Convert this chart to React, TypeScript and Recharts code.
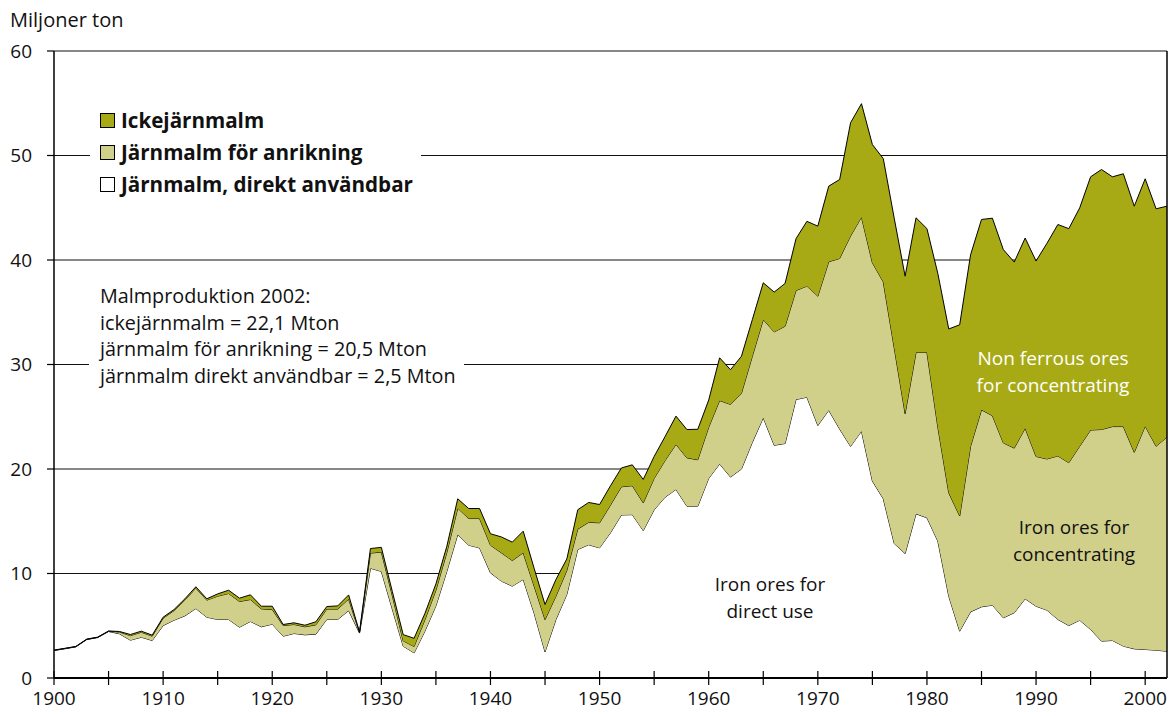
import React from "react";
import { AreaChart, Area, XAxis, YAxis, CartesianGrid, Legend, ReferenceLine } from "recharts";

// Malmproduktion i Sverige 1900-2002, miljoner ton
const years = [
  1900, 1901, 1902, 1903, 1904, 1905, 1906, 1907, 1908, 1909,
  1910, 1911, 1912, 1913, 1914, 1915, 1916, 1917, 1918, 1919,
  1920, 1921, 1922, 1923, 1924, 1925, 1926, 1927, 1928, 1929,
  1930, 1931, 1932, 1933, 1934, 1935, 1936, 1937, 1938, 1939,
  1940, 1941, 1942, 1943, 1944, 1945, 1946, 1947, 1948, 1949,
  1950, 1951, 1952, 1953, 1954, 1955, 1956, 1957, 1958, 1959,
  1960, 1961, 1962, 1963, 1964, 1965, 1966, 1967, 1968, 1969,
  1970, 1971, 1972, 1973, 1974, 1975, 1976, 1977, 1978, 1979,
  1980, 1981, 1982, 1983, 1984, 1985, 1986, 1987, 1988, 1989,
  1990, 1991, 1992, 1993, 1994, 1995, 1996, 1997, 1998, 1999,
  2000, 2001, 2002,
];

// Järnmalm, direkt användbar
const direct = [
  2.63, 2.8, 2.98, 3.68, 3.87, 4.45, 4.23, 3.62, 3.9, 3.59,
  5.02, 5.53, 5.95, 6.65, 5.82, 5.6, 5.6, 4.86, 5.41, 4.9,
  5.15, 4.0, 4.26, 4.13, 4.2, 5.6, 5.6, 6.45, 4.3, 10.5,
  10.2, 6.6, 3.05, 2.4, 4.5, 6.9, 10.2, 13.73, 12.71, 12.45,
  10.06, 9.27, 8.79, 9.43, 6.2, 2.5, 5.59, 8.0, 12.3, 12.75,
  12.45, 13.9, 15.6, 15.63, 14.1, 16.1, 17.3, 18.04, 16.44, 16.44,
  19.1, 20.48, 19.23, 20.0, 22.55, 24.9, 22.27, 22.44, 26.65, 26.87,
  24.16, 25.62, 23.82, 22.16, 23.62, 18.84, 17.15, 12.87, 11.91, 15.71,
  15.33, 13.09, 7.83, 4.48, 6.33, 6.81, 6.97, 5.76, 6.24, 7.58,
  6.87, 6.49, 5.6, 5.02, 5.53, 4.64, 3.53, 3.59, 3.05, 2.79,
  2.73, 2.66, 2.56,
];

// Järnmalm för anrikning
const concentrating = [
  0.02, 0.02, 0.02, 0.02, 0.02, 0.02, 0.17, 0.43, 0.48, 0.41,
  0.7, 0.92, 1.5, 1.95, 1.63, 2.23, 2.49, 2.46, 2.1, 1.72,
  1.4, 1.02, 0.86, 0.77, 0.89, 1.0, 1.0, 1.1, 0.05, 1.45,
  1.85, 1.3, 0.5, 0.62, 1.1, 1.5, 1.8, 2.52, 2.55, 2.81,
  2.65, 2.71, 2.45, 2.55, 2.6, 3.09, 2.24, 2.3, 1.95, 2.15,
  2.4, 2.65, 2.7, 2.77, 2.66, 3.0, 3.5, 4.31, 4.63, 4.44,
  4.9, 6.07, 6.95, 7.25, 8.24, 9.4, 10.85, 11.22, 10.43, 10.63,
  12.38, 14.21, 16.33, 20.14, 20.48, 20.9, 20.75, 18.73, 13.39, 15.44,
  15.82, 10.91, 9.89, 11.02, 15.85, 18.85, 18.13, 16.74, 15.76, 16.32,
  14.33, 14.47, 15.65, 15.58, 16.65, 19.09, 20.25, 20.47, 21.01, 18.81,
  21.37, 19.52, 20.49,
];

// Ickejärnmalm
const nonFerrous = [
  0.02, 0.02, 0.02, 0.02, 0.02, 0.03, 0.05, 0.11, 0.1, 0.1,
  0.1, 0.1, 0.13, 0.13, 0.13, 0.22, 0.31, 0.32, 0.45, 0.25,
  0.32, 0.1, 0.16, 0.15, 0.29, 0.24, 0.3, 0.4, 0.05, 0.44,
  0.45, 0.4, 0.6, 0.78, 0.6, 0.6, 0.6, 0.9, 0.96, 0.96,
  1.09, 1.52, 1.76, 2.07, 1.7, 1.44, 1.6, 1.1, 1.85, 1.9,
  1.75, 1.85, 1.8, 2.0, 2.24, 2.1, 2.3, 2.71, 2.71, 2.92,
  2.6, 4.09, 3.32, 3.54, 3.51, 3.52, 3.81, 4.1, 4.96, 6.2,
  6.7, 7.24, 7.55, 10.83, 10.86, 11.31, 11.8, 12.4, 13.15, 12.89,
  11.85, 14.7, 15.68, 18.3, 18.32, 18.22, 18.9, 18.5, 17.8, 18.2,
  18.7, 20.64, 22.15, 22.4, 22.81, 24.23, 24.88, 23.9, 24.19, 23.55,
  23.67, 22.72, 22.1,
];

const xTicks = [
  1900, 1905, 1910, 1915, 1920, 1925, 1930, 1935, 1940, 1945, 1950,
  1955, 1960, 1965, 1970, 1975, 1980, 1985, 1990, 1995, 2000,
];
const yTicks = [0, 10, 20, 30, 40, 50, 60];

const legendItems = [
  { label: "Ickejärnmalm", color: "#A7AA14" },
  { label: "Järnmalm för anrikning", color: "#D1D08B" },
  { label: "Järnmalm, direkt användbar", color: "#FFFFFF" },
];

const noteLines = [
  "Malmproduktion 2002:",
  "ickejärnmalm = 22,1 Mton",
  "järnmalm för anrikning = 20,5 Mton",
  "järnmalm direkt användbar = 2,5 Mton",
];

const data = years.map((year, i) => ({
  year,
  direct: direct[i],
  concentrating: concentrating[i],
  nonFerrous: nonFerrous[i],
}));

const FONT = '"Open Sans", sans-serif';

function XTick({ x, y, payload }: any) {
  const v = payload.value;
  return (
    <g>
      <line x1={x} x2={x} y1={y - 7} y2={y + 7} stroke="#000" strokeWidth={1.2} />
      {v % 10 === 0 && (
        <text x={x} y={y + 27} textAnchor="middle" fontSize={19} fill="#111">
          {v}
        </text>
      )}
    </g>
  );
}

function LegendBox() {
  return (
    <div style={{ background: "#fff", padding: "4px 0 8px 10px", fontFamily: FONT }}>
      {legendItems.map((it) => (
        <div key={it.label} style={{ display: "flex", alignItems: "center", height: 32 }}>
          <span
            style={{
              width: 13,
              height: 13,
              background: it.color,
              border: "1px solid #000",
              marginRight: 6,
              display: "inline-block",
            }}
          />
          <span style={{ fontSize: 20.6, fontWeight: 700, color: "#111" }}>{it.label}</span>
        </div>
      ))}
    </div>
  );
}

const areaLabel = (color: string): React.CSSProperties => ({
  position: "absolute",
  fontSize: 19,
  lineHeight: "26.5px",
  textAlign: "center",
  color,
  whiteSpace: "nowrap",
  transform: "translateX(-50%)",
});

export default function App() {
  return (
    <div
      style={{
        position: "absolute",
        left: 0,
        top: 0,
        width: 1169,
        height: 716,
        background: "#fff",
        fontFamily: FONT,
      }}
    >
      <AreaChart
        width={1169}
        height={716}
        data={data}
        margin={{ top: 51, right: 2, bottom: 0, left: 0 }}
      >
        <CartesianGrid vertical={false} stroke="#111" strokeWidth={1} />
        <XAxis
          dataKey="year"
          type="number"
          domain={[1900, 2002]}
          ticks={xTicks}
          interval={0}
          height={38}
          axisLine={{ stroke: "#000", strokeWidth: 2 }}
          tickLine={false}
          tickSize={0}
          tickMargin={0}
          tick={<XTick />}
        />
        <YAxis
          type="number"
          domain={[0, 60]}
          ticks={yTicks}
          interval={0}
          width={54}
          axisLine={{ stroke: "#000", strokeWidth: 1.5 }}
          tickLine={{ stroke: "#000", strokeWidth: 1.2 }}
          tickSize={7}
          tickMargin={15}
          tick={{ fontSize: 19, fill: "#111" }}
        />
        <Legend
          layout="vertical"
          align="center"
          verticalAlign="middle"
          wrapperStyle={{ left: 90, top: 100, width: 331 }}
          content={<LegendBox />}
        />
        <Area
          type="linear"
          dataKey="direct"
          stackId="1"
          stroke="#000"
          strokeWidth={1}
          fill="#FFFFFF"
          fillOpacity={1}
          dot={false}
          activeDot={false}
          isAnimationActive={false}
        />
        <Area
          type="linear"
          dataKey="concentrating"
          stackId="1"
          stroke="#000"
          strokeWidth={1}
          fill="#D1D08B"
          fillOpacity={1}
          dot={false}
          activeDot={false}
          isAnimationActive={false}
        />
        <Area
          type="linear"
          dataKey="nonFerrous"
          stackId="1"
          stroke="#000"
          strokeWidth={1}
          fill="#A7AA14"
          fillOpacity={1}
          dot={false}
          activeDot={false}
          isAnimationActive={false}
        />
        <ReferenceLine x={2002} stroke="#000" strokeWidth={1.5} />
      </AreaChart>

      <div style={{ position: "absolute", left: 10, top: 6, fontSize: 20, color: "#111" }}>
        Miljoner ton
      </div>

      <div
        style={{
          position: "absolute",
          left: 89,
          top: 283,
          width: 375,
          paddingLeft: 11,
          boxSizing: "border-box",
          background: "#fff",
          fontSize: 19.8,
          lineHeight: "26.7px",
          color: "#111",
          whiteSpace: "nowrap",
        }}
      >
        {noteLines.map((l) => (
          <div key={l}>{l}</div>
        ))}
      </div>

      <div style={{ ...areaLabel("#fff"), left: 1053, top: 345 }}>
        Non ferrous ores
        <br />
        for concentrating
      </div>
      <div style={{ ...areaLabel("#111"), left: 1074, top: 514 }}>
        Iron ores for
        <br />
        concentrating
      </div>
      <div style={{ ...areaLabel("#111"), left: 770, top: 571 }}>
        Iron ores for
        <br />
        direct use
      </div>
    </div>
  );
}
